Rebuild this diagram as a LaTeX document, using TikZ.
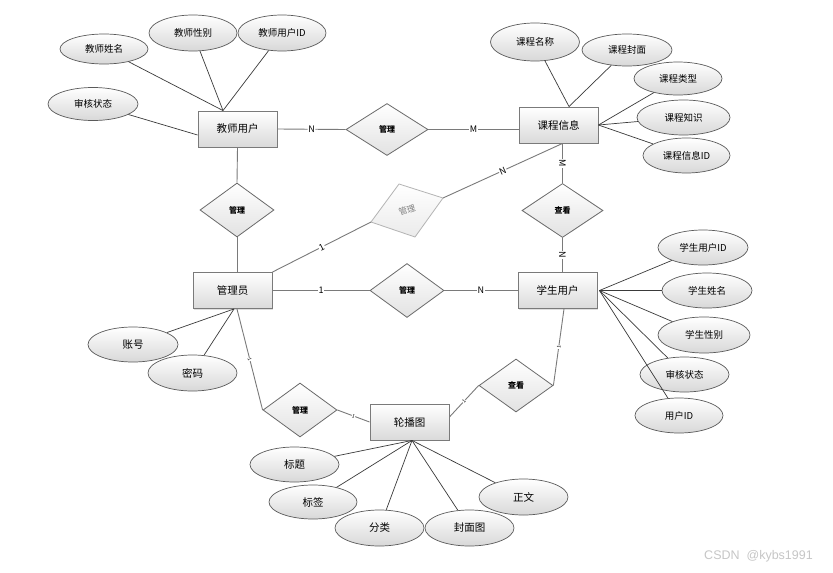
\documentclass[tikz,border=0pt]{standalone}
\usepackage{fontspec}
\setmainfont{Noto Sans CJK SC}
\newfontfamily\wmfont{Liberation Sans}
\usetikzlibrary{shapes.geometric,calc,shadows}
\definecolor{entborder}{HTML}{7A7A7A}
\definecolor{entfill}{HTML}{DADADA}
\definecolor{attrborder}{HTML}{5A5A5A}
\definecolor{attrfill}{HTML}{D8D8D8}
\definecolor{relborder}{HTML}{6A6A6A}
\definecolor{relfill}{HTML}{E2E2E2}
\definecolor{linegray}{HTML}{7A7A7A}
\definecolor{linedark}{HTML}{3A3A3A}
\definecolor{ghost}{HTML}{B4B4B4}
\begin{document}
\begin{tikzpicture}[x=1pt,y=-1pt,
  ent/.style={draw=entborder, line width=0.9pt, rectangle, minimum width=79pt, minimum height=36pt,
    inner sep=0pt, top color=white, bottom color=entfill,
    drop shadow={shadow xshift=1pt, shadow yshift=-1pt, opacity=0.25},
    font=\fontsize{10.5}{12}\selectfont},
  attr/.style={draw=attrborder, line width=0.7pt, ellipse, minimum width=89pt, minimum height=35pt,
    inner sep=0pt, top color=white, bottom color=attrfill, font=\fontsize{9.5}{11}\selectfont},
  rel/.style={draw=relborder, line width=0.8pt, diamond, minimum width=74pt, minimum height=54pt,
    inner sep=0pt, top color=white, bottom color=relfill, font=\fontsize{8}{9}\selectfont\bfseries},
  relline/.style={draw=linegray, line width=0.9pt},
  attrline/.style={draw=linedark, line width=0.7pt},
  lbl/.style={fill=white, inner sep=0.6pt, sloped, font=\fontsize{9}{10}\selectfont},
  tinylbl/.style={fill=white, inner sep=0.3pt, sloped, font=\fontsize{5}{6}\selectfont}
]
\useasboundingbox[fill=white] (0,0) rectangle (833,573);

% entities
\node[ent] (T) at (237.5,129) {教师用户};
\node[ent] (C) at (558.5,125) {课程信息};
\node[ent] (A) at (232.5,290.5) {管理员};
\node[ent] (S) at (557.5,290.5) {学生用户};
\node[ent] (L) at (409.5,422) {轮播图};

% relationships
\node[rel, minimum width=82pt, minimum height=52pt] (R1) at (387,129.5) {管理};
\node[rel] (R2) at (237,210) {管理};
\node[rel] (R4) at (407,290.5) {管理};
\node[rel] (R5) at (300,410) {管理};
\node[rel, minimum width=81pt] (R7) at (562.5,210.5) {查看};
\node[rel, minimum height=53pt] (R6) at (516,385.5) {查看};

% faded slanted relationship
\coordinate (R3w) at (371,222);
\coordinate (R3n) at (399,184);
\coordinate (R3e) at (443,198);
\coordinate (R3s) at (415,237);
\path[draw=ghost, line width=0.8pt, top color=white, bottom color=relfill!70]
  (R3w) -- (R3n) -- (R3e) -- (R3s) -- cycle;
\node[rotate=19, text=gray, inner sep=0pt, font=\fontsize{8.5}{9}\selectfont] (R3) at (407,210) {管理};

% relationship connectors
\coordinate (Cb) at ([xshift=4pt]C.south);
\draw[relline] (T.east) -- node[lbl]{N} (R1.west);
\draw[relline] (R1.east) -- node[lbl]{M} ([yshift=-4.5pt]C.west);
\draw[relline] (T.south) -- (R2.north);
\draw[relline] (R2.south) -- (R2.south |- A.north);
\draw[relline] (A.north east) -- node[lbl]{1} (R3w);
\draw[relline] (R3e) -- node[lbl]{N} (Cb);
\draw[relline] (Cb) -- node[lbl]{M} (R7.north);
\draw[relline] (R7.south) -- node[lbl]{N} (R7.south |- S.north);
\draw[relline] (A.east) -- node[lbl]{1} (R4.west);
\draw[relline] (R4.east) -- node[lbl]{N} (S.west);
\draw[relline] ([xshift=4.5pt]A.south) -- node[tinylbl]{1} (R5.west);
\draw[relline] (R5.east) -- node[tinylbl]{1} (L.west);
\draw[relline] ([yshift=5pt]L.east) -- node[tinylbl]{1} (R6.west);
\draw[relline] (R6.east) -- node[tinylbl]{1} ([xshift=6.5pt]S.south);

% teacher attributes
\coordinate (Ttop) at ([xshift=-14.5pt]T.north);
\coordinate (Tleft) at ([yshift=-6pt]T.west);
\node[attr, minimum width=88pt, minimum height=30pt] (t1) at (104,49) {教师姓名};
\node[attr, minimum width=88pt, minimum height=36pt] (t2) at (193,33) {教师性别};
\node[attr, minimum width=88pt, minimum height=36pt] (t3) at (282,33) {教师用户ID};
\node[attr, minimum width=90pt, minimum height=33pt] (t4) at (93,104) {审核状态};
\draw[attrline] (t1) -- (Ttop);
\draw[attrline] (t2) -- (Ttop);
\draw[attrline] (t3) -- (Ttop);
\draw[attrline] (t4) -- (Tleft);

% course attributes
\coordinate (Ctop) at ([xshift=10.5pt]C.north);
\node[attr, minimum width=89pt, minimum height=38pt] (c1) at (535,42) {课程名称};
\node[attr, minimum width=90pt, minimum height=32pt] (c2) at (627,50) {课程封面};
\node[attr, minimum width=88pt, minimum height=33pt] (c3) at (678,78.5) {课程类型};
\node[attr, minimum width=93pt, minimum height=35pt] (c4) at (683.5,117.5) {课程知识};
\node[attr, minimum width=87pt, minimum height=35pt] (c5) at (686.5,155.5) {课程信息ID};
\draw[attrline] (c1) -- (Ctop);
\draw[attrline] (c2) -- (Ctop);
\draw[attrline] (c3) -- (C.east);
\draw[attrline] (c4) -- (C.east);
\draw[attrline] (c5) -- (C.east);

% student attributes
\coordinate (Sright) at ([xshift=2pt]S.east);
\node[attr, minimum width=90pt] (s1) at (703,247.5) {学生用户ID};
\node[attr, minimum width=90pt] (s2) at (707,290.5) {学生姓名};
\node[attr, minimum width=92pt, minimum height=36pt] (s3) at (704,335) {学生性别};
\node[attr] (s4) at (684.5,374.5) {审核状态};
\node[attr, minimum width=88pt] (s5) at (679,415.5) {用户ID};
\foreach \n in {s1,s2,s3,s4,s5} \draw[attrline] (\n) -- (Sright);

% admin attributes
\coordinate (Abot) at ([xshift=1.5pt]A.south);
\node[attr, minimum width=90pt, font=\fontsize{10.5}{12}\selectfont] (a1) at (133,344.5) {账号};
\node[attr, minimum height=36pt, font=\fontsize{10.5}{12}\selectfont] (a2) at (192.5,373) {密码};
\draw[attrline] (a1) -- (Abot);
\draw[attrline] (a2) -- (Abot);

% carousel attributes
\coordinate (Lbot) at ([xshift=2.5pt]L.south);
\node[attr, font=\fontsize{10.5}{12}\selectfont] (l1) at (294.5,464.5) {标题};
\node[attr, minimum width=88pt, minimum height=34pt, font=\fontsize{10.5}{12}\selectfont] (l2) at (313,502) {标签};
\node[attr, minimum height=36pt, font=\fontsize{10.5}{12}\selectfont] (l3) at (379.5,528) {分类};
\node[attr, minimum height=36pt, font=\fontsize{10.5}{12}\selectfont] (l4) at (469.5,528) {封面图};
\node[attr, minimum height=36pt, font=\fontsize{10.5}{12}\selectfont] (l5) at (523.5,497) {正文};
\foreach \n in {l1,l2,l3,l4,l5} \draw[attrline] (\n) -- (Lbot);

% watermark
\node[anchor=east, text=gray!45, font=\wmfont\fontsize{12.5}{14}\selectfont, inner sep=0pt] (wm) at (813,556) {CSDN \ @kybs1991};
\end{tikzpicture}
\end{document}
